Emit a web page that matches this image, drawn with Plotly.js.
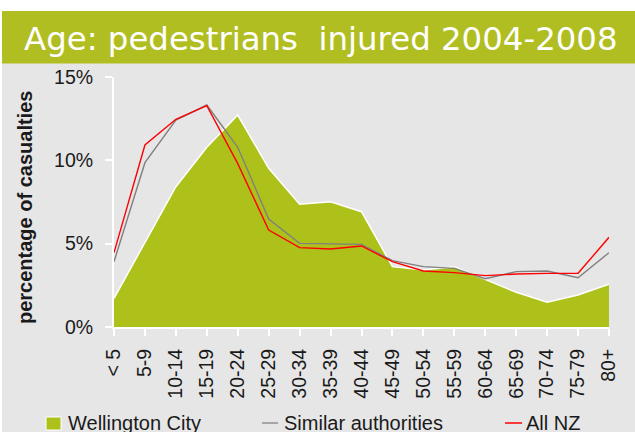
<!DOCTYPE html>
<html>
<head>
<meta charset="utf-8">
<script src="https://cdn.plot.ly/plotly-3.0.1.min.js"></script>
<style>html,body{margin:0;padding:0;background:#fff;}#chart{width:635px;height:432px;}</style>
</head>
<body>
<div id="chart"></div>
<script>
// Data (percent of casualties)
const ageGroups = ["< 5","5-9","10-14","15-19","20-24","25-29","30-34","35-39","40-44","45-49","50-54","55-59","60-64","65-69","70-74","75-79","80+"];
const wellington = [1.72, 5.1, 8.42, 10.78, 12.72, 9.52, 7.36, 7.52, 6.92, 3.62, 3.42, 3.62, 2.86, 2.08, 1.48, 1.92, 2.56];
const similar    = [3.92, 9.86, 12.42, 13.32, 10.78, 6.48, 5.02, 4.98, 4.96, 3.98, 3.62, 3.52, 2.9, 3.32, 3.36, 2.96, 4.46];
const allNZ      = [4.46, 10.92, 12.46, 13.28, 9.8, 5.82, 4.76, 4.68, 4.86, 3.92, 3.36, 3.26, 3.08, 3.18, 3.22, 3.22, 5.38];
const yTicks = [0, 5, 10, 15];
const seriesNames = ["Wellington City", "Similar authorities", "All NZ"];
const chartTitle = "Age: pedestrians&nbsp; injured 2004-2008";
const yTitle = "percentage of casualties";

const W = 635, H = 432;
const L = 114, R = 26, T = 77, B = 105;
const pw = W - L - R, ph = H - T - B;
const px = v => (v - L) / pw;          // pixel x -> paper
const py = v => (H - B - v) / ph;      // pixel y -> paper

const traces = [
  {x: ageGroups, y: wellington, name: seriesNames[0], type: 'scatter', mode: 'lines',
   fill: 'tozeroy', fillcolor: '#ADC11A', line: {color: '#ffffff', width: 1.5}},
  {x: ageGroups, y: similar, name: seriesNames[1], type: 'scatter', mode: 'lines',
   line: {color: '#808080', width: 1.4}},
  {x: ageGroups, y: allNZ, name: seriesNames[2], type: 'scatter', mode: 'lines',
   line: {color: '#ff0000', width: 1.4}}
];

const font = {family: 'Liberation Sans, Arial, sans-serif', color: '#1a1a1a'};

const layout = {
  width: W, height: H,
  margin: {l: L, r: R, t: T, b: B, pad: 0},
  paper_bgcolor: '#E6E6E6',
  plot_bgcolor: '#E6E6E6',
  showlegend: false,
  font: font,
  xaxis: {
    type: 'category', range: [0, ageGroups.length - 1],
    showgrid: false, zeroline: false,
    showline: true, linecolor: '#ffffff', linewidth: 2,
    ticks: 'outside', ticklen: 7, tickwidth: 2, tickcolor: '#ffffff',
    tickangle: -90, ticklabelstandoff: 5,
    tickfont: {family: font.family, size: 19.5, color: '#1a1a1a'}
  },
  yaxis: {
    range: [0, 15], tickvals: yTicks, ticktext: yTicks.map(v => v + '%'),
    showgrid: false, zeroline: false,
    showline: true, linecolor: '#ffffff', linewidth: 2,
    ticks: 'outside', ticklen: 7, tickwidth: 2, tickcolor: '#ffffff',
    ticklabelstandoff: 8,
    tickfont: {family: font.family, size: 19.5, color: '#1a1a1a'}
  },
  shapes: [
    {type: 'rect', xref: 'paper', yref: 'paper', x0: px(-5), x1: px(W + 5), y0: py(11), y1: py(-5),
     fillcolor: '#ffffff', line: {width: 0}, layer: 'below'},
    {type: 'rect', xref: 'paper', yref: 'paper', x0: px(-5), x1: px(2), y0: py(H + 5), y1: py(-5),
     fillcolor: '#ffffff', line: {width: 0}, layer: 'below'},
    {type: 'rect', xref: 'paper', yref: 'paper', x0: px(2), x1: px(W + 5), y0: py(63.5), y1: py(11),
     fillcolor: '#B1BE21', line: {width: 0}, layer: 'below'},
    // legend symbols
    {type: 'rect', xref: 'paper', yref: 'paper', x0: px(46), x1: px(61), y0: py(430), y1: py(417),
     fillcolor: '#ADC11A', line: {color: '#ffffff', width: 1}},
    {type: 'line', xref: 'paper', yref: 'paper', x0: px(262), x1: px(278), y0: py(423), y1: py(423),
     line: {color: '#909090', width: 1.5}},
    {type: 'line', xref: 'paper', yref: 'paper', x0: px(505), x1: px(522), y0: py(423), y1: py(423),
     line: {color: '#ff0000', width: 1.5}}
  ],
  annotations: [
    {text: chartTitle, xref: 'paper', yref: 'paper', x: px(321), y: py(39), xanchor: 'center', yanchor: 'middle',
     showarrow: false, font: {family: 'DejaVu Sans, Verdana, sans-serif', size: 32.4, color: '#ffffff'}},
    {text: '<b>' + yTitle + '</b>', xref: 'paper', yref: 'paper', x: px(25), y: py(208), textangle: -90,
     xanchor: 'center', yanchor: 'middle', showarrow: false,
     font: {family: font.family, size: 20, color: '#1a1a1a'}},
    {text: seriesNames[0], xref: 'paper', yref: 'paper', x: px(66), y: py(423), xanchor: 'left', yanchor: 'middle',
     showarrow: false, font: {family: font.family, size: 20, color: '#1a1a1a'}},
    {text: seriesNames[1], xref: 'paper', yref: 'paper', x: px(282), y: py(423), xanchor: 'left', yanchor: 'middle',
     showarrow: false, font: {family: font.family, size: 20, color: '#1a1a1a'}},
    {text: seriesNames[2], xref: 'paper', yref: 'paper', x: px(524), y: py(423), xanchor: 'left', yanchor: 'middle',
     showarrow: false, font: {family: font.family, size: 20, color: '#1a1a1a'}}
  ]
};

Plotly.newPlot('chart', traces, layout, {displayModeBar: false, staticPlot: true});
</script>
</body>
</html>
